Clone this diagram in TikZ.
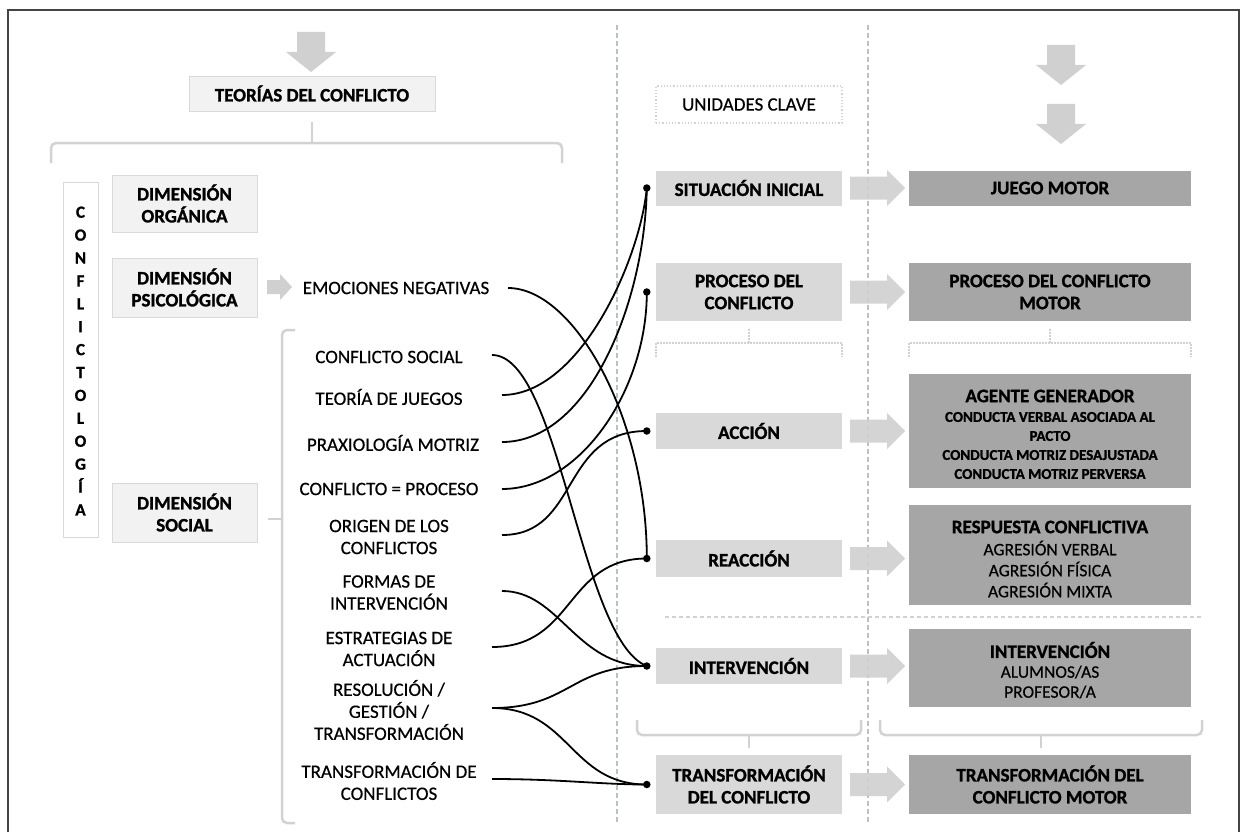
\documentclass[tikz,border=0pt]{standalone}
\usepackage{fontspec}
\setmainfont{Carlito}[UprightFeatures={FakeBold=0.5},BoldFeatures={FakeBold=1.2}]
\usetikzlibrary{calc}
\definecolor{lfill}{HTML}{F2F2F2}
\definecolor{lline}{HTML}{D9D9D9}
\definecolor{mfill}{HTML}{D9D9D9}
\definecolor{rfill}{HTML}{A6A6A6}
\definecolor{brkc}{HTML}{D2D2D2}
\definecolor{vdc}{HTML}{B8C0C8}
\definecolor{arrc}{HTML}{D0D0D0}
\definecolor{framec}{HTML}{444444}
\newcommand\myB{\fontsize{19}{22}\selectfont\bfseries}
\newcommand\myR{\fontsize{19}{22}\selectfont}
\newcommand\myS{\fontsize{15}{19}\selectfont\bfseries}
\newcommand\myT{\fontsize{17.5}{21}\selectfont}
\newcommand\myL{\fontsize{17}{22.9}\selectfont\bfseries}
\begin{document}
\begin{tikzpicture}[x=1pt,y=-1pt,
  lbox/.style={draw=lline, fill=lfill, line width=0.8pt, inner sep=0pt, align=center, font=\myB},
  mbox/.style={fill=mfill, inner sep=0pt, align=center, font=\myB, minimum width=186pt},
  rbox/.style={fill=rfill, inner sep=0pt, align=center, font=\myB, minimum width=282pt},
  item/.style={font=\myR, align=center, inner sep=0pt},
  txt/.style={inner sep=0pt, align=center},
  dotn/.style={circle, fill=black, inner sep=0pt, minimum size=7.5pt},
  link/.style={line width=1.8pt, black},
  brk/.style={draw=brkc, line width=2.5pt, rounded corners=5pt},
  brkd/.style={draw=brkc, line width=1.5pt, dash pattern=on 2pt off 1pt},
  vdash/.style={draw=vdc, line width=1.2pt, dash pattern=on 5pt off 3pt},
  rarr/.pic={\fill[arrc, fill opacity=0.9] (0,-11.5) -- (37,-11.5) -- (37,-18) -- (55,0) -- (37,18) -- (37,11.5) -- (0,11.5) -- cycle;},
  sarr/.pic={\fill[arrc] (0,-7) -- (13,-7) -- (13,-13) -- (25,0) -- (13,13) -- (13,7) -- (0,7) -- cycle;},
  darr/.pic={\fill[arrc] (-14,0) -- (14,0) -- (14,20) -- (25,20) -- (0,40) -- (-25,20) -- (-14,20) -- cycle;}
]
\useasboundingbox (0,0) rectangle (1241,832);
\fill[white] (0,0) rectangle (1241,832);
% frame
\draw[framec, line width=1.6pt] (8,832) -- (8,10) -- (1239,10) -- (1239,832);

% vertical dashed separators
\draw[vdash] (617,25) -- (617,823);
\draw[vdash] (868,25) -- (868,823);

% top left
\pic at (311,32) {darr};
\node[lbox, minimum width=246pt, minimum height=35pt] (teo) at (312,93.5) {TEORÍAS DEL CONFLICTO};
\draw[brk] (51,163) -- (51,143) -- (562,143) -- (562,163);
\draw[brkc, line width=2.5pt] (312,143) -- (312,122);

% top right
\node[draw=brkc, dotted, line width=1.2pt, minimum width=186pt, minimum height=37pt, inner sep=0pt, font=\myR] (uc) at (749,104.5) {UNIDADES CLAVE};
\pic at (1061,45) {darr};
\pic at (1061,104) {darr};

% left column
\node[draw=lline, fill=white, line width=0.8pt, minimum width=35pt, minimum height=355pt, inner sep=0pt] (cbox) at (80.5,359.5) {};
\node[txt, font=\myL] (cword) at (80.5,361) {C\\O\\N\\F\\L\\I\\C\\T\\O\\L\\O\\G\\Í\\A};
\node[lbox, minimum width=145pt, minimum height=57pt] (dorg) at (184.5,203.5) {DIMENSIÓN\\ORGÁNICA};
\node[lbox, minimum width=145pt, minimum height=59pt] (dpsi) at (184.5,287.5) {DIMENSIÓN\\PSICOLÓGICA};
\node[lbox, minimum width=145pt, minimum height=59pt] (dsoc) at (184.5,512.5) {DIMENSIÓN\\SOCIAL};
\pic at (267,287) {sarr};
\node[item] (emo) at (396,288) {EMOCIONES NEGATIVAS};

% social bracket
\draw[brk] (295,330) -- (282,330) -- (282,823) -- (295,823);
\draw[brkc, line width=2.5pt] (282,519) -- (268,519);

% list items
\node[item] (cs) at (389,357) {CONFLICTO SOCIAL};
\node[item] (tj) at (389,397) {TEORÍA DE JUEGOS};
\node[item] (pm) at (393,443) {PRAXIOLOGÍA MOTRIZ};
\node[item] (cp) at (389,489) {CONFLICTO = PROCESO};
\node[item] (oc) at (389,537) {ORIGEN DE LOS\\CONFLICTOS};
\node[item] (fi) at (389,592.5) {FORMAS DE\\INTERVENCIÓN};
\node[item] (ea) at (389,649) {ESTRATEGIAS DE\\ACTUACIÓN};
\node[item] (rg) at (389,710) {RESOLUCIÓN /\\GESTIÓN /\\TRANSFORMACIÓN};
\node[item] (tc) at (389,781) {TRANSFORMACIÓN DE\\CONFLICTOS};

% middle column
\node[mbox, minimum height=35pt] (si) at (749,188) {SITUACIÓN INICIAL};
\node[mbox, minimum height=58pt] (pc) at (749,292) {PROCESO DEL\\CONFLICTO};
\node[mbox, minimum height=36pt] (ac) at (749,431) {ACCIÓN};
\node[mbox, minimum height=37pt] (re) at (749,558.5) {REACCIÓN};
\node[mbox, minimum height=36pt] (in) at (749,666) {INTERVENCIÓN};
\node[mbox, minimum height=59pt] (tr) at (749,784.5) {TRANSFORMACIÓN\\DEL CONFLICTO};

% right column
\node[rbox, minimum height=35pt] (jm) at (1050,188) {JUEGO MOTOR};
\node[rbox, minimum height=58pt] (pcm) at (1050,292) {PROCESO DEL CONFLICTO\\MOTOR};
\node[rbox, minimum height=114pt] (ag) at (1050,431) {};
\node[txt, font=\myB] (agh) at (1050,396) {AGENTE GENERADOR};
\node[txt, font=\myS] (ag1) at (1050,417) {CONDUCTA VERBAL ASOCIADA AL};
\node[txt, font=\myS] (ag2) at (1050,436) {PACTO};
\node[txt, font=\myS] (ag3) at (1050,455) {CONDUCTA MOTRIZ DESAJUSTADA};
\node[txt, font=\myS] (ag4) at (1050,474) {CONDUCTA MOTRIZ PERVERSA};
\node[rbox, minimum height=100pt] (rc) at (1050,555) {};
\node[txt, font=\myB] (rch) at (1050,527) {RESPUESTA CONFLICTIVA};
\node[txt, font=\myT] (rc1) at (1050,548) {AGRESIÓN VERBAL};
\node[txt, font=\myT] (rc2) at (1050,569) {AGRESIÓN FÍSICA};
\node[txt, font=\myT] (rc3) at (1050,590) {AGRESIÓN MIXTA};
\node[rbox, minimum height=78pt] (im) at (1050,668) {};
\node[txt, font=\myB] (imh) at (1050,650) {INTERVENCIÓN};
\node[txt, font=\myT] (im1) at (1050,672) {ALUMNOS/AS};
\node[txt, font=\myT] (im2) at (1050,692) {PROFESOR/A};
\node[rbox, minimum height=59pt] (tm) at (1050,784.5) {TRANSFORMACIÓN DEL\\CONFLICTO MOTOR};

% braces under PROCESO
\draw[brkd] (656,357) -- (656,343) -- (842,343) -- (842,357);
\draw[brkd] (749,343) -- (749,328);
\draw[brkd] (909,357) -- (909,343) -- (1191,343) -- (1191,357);
\draw[brkd] (1050,343) -- (1050,328);

% dotted separator
\draw[brkc, line width=2.5pt, dash pattern=on 4pt off 3pt] (665,617) -- (1202,617);

% brackets above TRANSFORMACIÓN
\draw[brk] (637,720) -- (637,735) -- (861,735) -- (861,720);
\draw[brkc, line width=2.5pt] (749,735) -- (749,748);
\draw[brk] (880,720) -- (880,735) -- (1202,735) -- (1202,720);
\draw[brkc, line width=2.5pt] (1041,735) -- (1041,748);

% arrows between columns
\pic at (850,188) {rarr};
\pic at (850,292) {rarr};
\pic at (850,431) {rarr};
\pic at (850,558.5) {rarr};
\pic at (850,666) {rarr};
\pic at (850,784.5) {rarr};

% dots
\node[dotn] (dSI) at ([xshift=-9pt]si.west) {};
\node[dotn] (dPC) at ([xshift=-9pt]pc.west) {};
\node[dotn] (dAC) at ([xshift=-9pt]ac.west) {};
\node[dotn] (dRE) at ([xshift=-9pt]re.west) {};
\node[dotn] (dIN) at ([xshift=-9pt]in.west) {};
\node[dotn] (dTR) at ([xshift=-9pt]tr.west) {};

% connector start points
\coordinate (cEmo) at (508,288);
\coordinate (cCS) at (492,355);
\coordinate (cTJ) at (502,395);
\coordinate (cPM) at (502,442);
\coordinate (cCP) at (502,489);
\coordinate (cOC) at (502,535);
\coordinate (cFI) at (502,591);
\coordinate (cEA) at (492,647);
\coordinate (cRG) at (492,708);
\coordinate (cTC) at (492,779);

% connectors
\draw[link] (cTJ) .. controls (580,395) and (640,260) .. (dSI.center);
\draw[link] (cPM) .. controls (590,442) and (645,300) .. (dSI.center);
\draw[link] (cCP) .. controls (580,489) and (647,390) .. (dPC.center);
\draw[link] (cOC) .. controls (580,535) and (560,431) .. (dAC.center);
\draw[link] (cEmo) .. controls (575,288) and (647,420) .. (dRE.center);
\draw[link] (cEA) .. controls (575,647) and (565,558.5) .. (dRE.center);
\draw[link] (cCS) .. controls (560,355) and (580,640) .. (dIN.center);
\draw[link] (cFI) .. controls (560,591) and (575,666) .. (dIN.center);
\draw[link] (cRG) .. controls (570,708) and (570,666) .. (dIN.center);
\draw[link] (cRG) .. controls (570,708) and (570,784.5) .. (dTR.center);
\draw[link] (cTC) .. controls (560,779) and (600,784.5) .. (dTR.center);
\end{tikzpicture}
\end{document}
